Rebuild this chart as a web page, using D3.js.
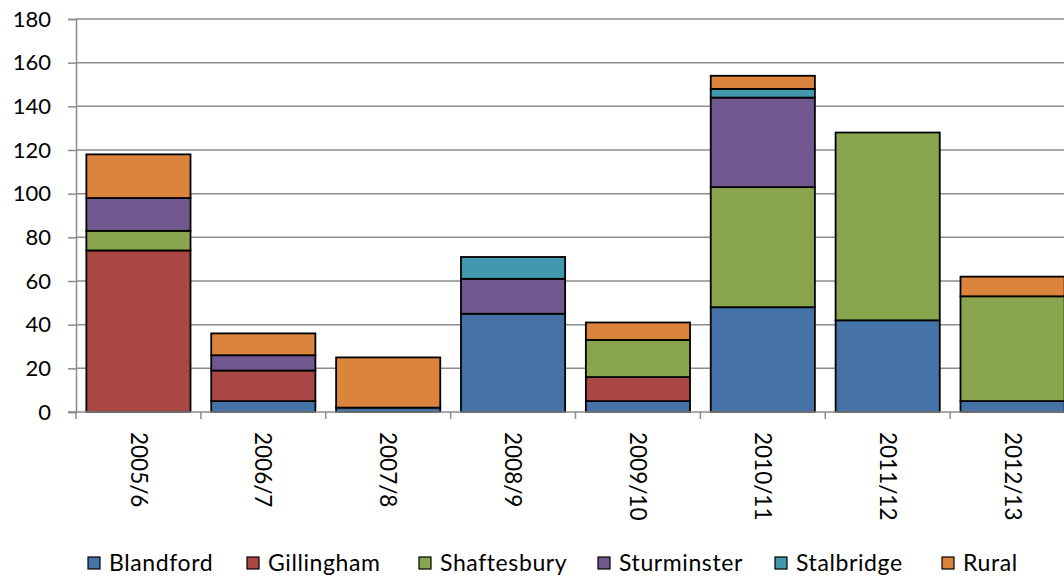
<!DOCTYPE html>
<html>
<head>
<meta charset="utf-8">
<script src="https://cdn.jsdelivr.net/npm/d3@7"></script>
<style>
  body { margin: 0; background: #fff; }
  svg { display: block; font-family: Lato, "Open Sans", sans-serif; }
</style>
</head>
<body>
<div id="chart"></div>
<script>
// data
const years = ["2005/6", "2006/7", "2007/8", "2008/9", "2009/10", "2010/11", "2011/12", "2012/13"];
const areas = ["Blandford", "Gillingham", "Shaftesbury", "Sturminster", "Stalbridge", "Rural"];
const colors = ["#4572A7", "#AA4643", "#89A54E", "#71588F", "#4198AF", "#DB843D"];

const blandford   = [0, 5, 2, 45, 5, 48, 42, 5];
const gillingham  = [74, 14, 0, 0, 11, 0, 0, 0];
const shaftesbury = [9, 0, 0, 0, 17, 55, 86, 48];
const sturminster = [15, 7, 0, 16, 0, 41, 0, 0];
const stalbridge  = [0, 0, 0, 10, 0, 4, 0, 0];
const rural       = [20, 10, 23, 0, 8, 6, 0, 9];
const yTicks = [0, 20, 40, 60, 80, 100, 120, 140, 160, 180];

const seriesValues = [blandford, gillingham, shaftesbury, sturminster, stalbridge, rural];

const width = 1064, height = 577;
const margin = { top: 19, right: -11, bottom: 165, left: 76 };

const svg = d3
  .select("#chart")
  .append("svg")
  .attr("width", width)
  .attr("height", height);

const table = years.map((yr, i) => {
  const row = { year: yr };
  areas.forEach((a, j) => (row[a] = seriesValues[j][i]));
  return row;
});

const stacked = d3.stack().keys(areas)(table);

const x = d3
  .scaleBand()
  .domain(years)
  .range([margin.left, width - margin.right])
  .paddingInner(0.166)
  .paddingOuter(0.083);

const y = d3
  .scaleLinear()
  .domain([0, 180])
  .range([height - margin.bottom, margin.top]);

const color = d3.scaleOrdinal().domain(areas).range(colors);

// gridlines
svg
  .append("g")
  .selectAll("line")
  .data(yTicks.filter((d) => d > 0))
  .enter()
  .append("line")
  .attr("x1", margin.left)
  .attr("x2", width)
  .attr("y1", (d) => y(d))
  .attr("y2", (d) => y(d))
  .attr("stroke", "#8c8c8c")
  .attr("stroke-width", 1.5);

// y axis
const yAxis = svg
  .append("g")
  .attr("transform", `translate(${margin.left},0)`)
  .call(d3.axisLeft(y).tickValues(yTicks).tickSize(8).tickPadding(17));
yAxis.select(".domain").attr("stroke", "#8c8c8c").attr("stroke-width", 1.5);
yAxis.selectAll(".tick line").attr("stroke", "#8c8c8c").attr("stroke-width", 1.5);
yAxis
  .selectAll(".tick text")
  .attr("font-size", 22)
  .attr("font-family", "Lato, sans-serif")
  .attr("fill", "#000");

// bars
svg
  .append("g")
  .selectAll("g")
  .data(stacked)
  .enter()
  .append("g")
  .attr("fill", (d) => color(d.key))
  .selectAll("rect")
  .data((d) => d.filter((p) => p[1] - p[0] > 0))
  .enter()
  .append("rect")
  .attr("x", (d) => x(d.data.year))
  .attr("y", (d) => y(d[1]))
  .attr("width", x.bandwidth())
  .attr("height", (d) => y(d[0]) - y(d[1]))
  .attr("stroke", "#000")
  .attr("stroke-width", 1.8);

// x axis with ticks at band edges
const xAxis = svg.append("g").attr("transform", `translate(0,${y(0)})`);
xAxis
  .append("line")
  .attr("x1", margin.left - 8)
  .attr("x2", width)
  .attr("stroke", "#8c8c8c")
  .attr("stroke-width", 1.5);
const step = x.step();
const edges = d3.range(years.length + 1).map((i) => margin.left + i * step);
xAxis
  .selectAll(".edge")
  .data(edges)
  .enter()
  .append("line")
  .attr("class", "edge")
  .attr("x1", (d) => d)
  .attr("x2", (d) => d)
  .attr("y1", 0)
  .attr("y2", 7)
  .attr("stroke", "#8c8c8c")
  .attr("stroke-width", 1.5);
xAxis
  .selectAll("text")
  .data(years)
  .enter()
  .append("text")
  .attr("transform", (d) => `translate(${x(d) + x.bandwidth() / 2},20) rotate(90)`)
  .attr("dy", "0.35em")
  .attr("font-size", 22.5)
  .attr("fill", "#000")
  .text((d) => d);

// legend
const legendX = [88, 247, 419, 598, 775, 942];
const legend = svg
  .append("g")
  .selectAll("g")
  .data(areas)
  .enter()
  .append("g")
  .attr("transform", (d, i) => `translate(${legendX[i]},563)`);
legend
  .append("rect")
  .attr("x", 0)
  .attr("y", -6)
  .attr("width", 12)
  .attr("height", 12)
  .attr("fill", (d) => color(d))
  .attr("stroke", "#000")
  .attr("stroke-width", 1.2);
legend
  .append("text")
  .attr("x", 21)
  .attr("dy", "0.35em")
  .attr("font-size", 23)
  .attr("letter-spacing", 0.6)
  .attr("fill", "#000")
  .text((d) => d);
</script>
</body>
</html>
